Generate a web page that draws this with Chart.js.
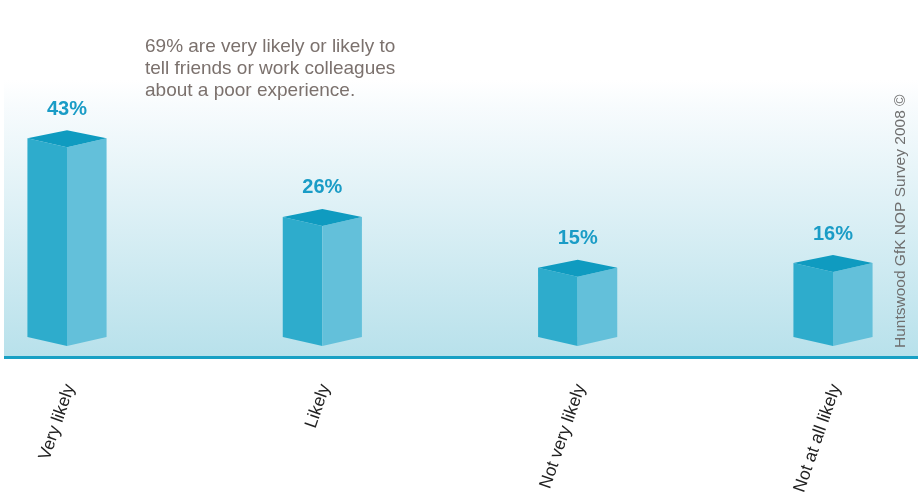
<!DOCTYPE html>
<html>
<head>
<meta charset="utf-8">
<script src="https://cdn.jsdelivr.net/npm/chart.js@4/dist/chart.umd.min.js"></script>
<style>
  html, body { margin: 0; padding: 0; background: #ffffff; }
  #wrap { position: relative; width: 918px; height: 499px; }
</style>
</head>
<body>
<div id="wrap"><canvas id="chart" width="918" height="499"></canvas></div>
<script>
const categories = ["Very likely", "Likely", "Not very likely", "Not at all likely"];
const shares = [43, 26, 15, 16];
const noteLines = [
  "69% are very likely or likely to",
  "tell friends or work colleagues",
  "about a poor experience."
];
const sourceText = "Huntswood GfK NOP Survey 2008 \u00a9";

const FONT = "'Liberation Sans', Arial, sans-serif";

// background band, baseline, notes and the source line
const backdrop = {
  id: "backdrop",
  beforeDraw(chart) {
    const ctx = chart.ctx;
    const y = chart.scales.y;
    const baseY = y.getPixelForValue(0) + 10;
    ctx.save();
    const g = ctx.createLinearGradient(0, 80, 0, baseY);
    g.addColorStop(0, "#ffffff");
    g.addColorStop(0.1, "#f7fbfd");
    g.addColorStop(1, "#b8e1eb");
    ctx.fillStyle = g;
    ctx.fillRect(4, 80, chart.width - 4, baseY - 80);
    ctx.fillStyle = "#18a0c4";
    ctx.fillRect(4, baseY, chart.width - 4, 3);

    ctx.fillStyle = "#7b716d";
    ctx.font = "19px " + FONT;
    ctx.textBaseline = "middle";
    ctx.textAlign = "left";
    noteLines.forEach((t, i) => ctx.fillText(t, 145, 47 + i * 22));

    ctx.translate(901, 348);
    ctx.rotate(-Math.PI / 2);
    ctx.fillStyle = "#6f6f6f";
    ctx.font = "15.5px " + FONT;
    ctx.fillText(sourceText, 0, 0);
    ctx.restore();
  }
};

// each bar as a box seen from slightly above
const prisms = {
  id: "prisms",
  afterDatasetsDraw(chart) {
    const ctx = chart.ctx;
    const meta = chart.getDatasetMeta(0);
    ctx.save();
    meta.data.forEach((bar, i) => {
      const { x, y, base, width } = bar.getProps(["x", "y", "base", "width"], true);
      const l = x - width / 2, r = x + width / 2;
      const sideTop = y - 9, sideBot = base - 9;
      const apex = sideTop - 8;

      ctx.fillStyle = "#2eaccc";
      ctx.beginPath();
      ctx.moveTo(l, sideTop); ctx.lineTo(x, y); ctx.lineTo(x, base); ctx.lineTo(l, sideBot);
      ctx.closePath(); ctx.fill();

      ctx.fillStyle = "#63c0da";
      ctx.beginPath();
      ctx.moveTo(x, y); ctx.lineTo(r, sideTop); ctx.lineTo(r, sideBot); ctx.lineTo(x, base);
      ctx.closePath(); ctx.fill();

      ctx.fillStyle = "#0f9bc0";
      ctx.beginPath();
      ctx.moveTo(l, sideTop); ctx.lineTo(x, apex); ctx.lineTo(r, sideTop); ctx.lineTo(x, y);
      ctx.closePath(); ctx.fill();

      ctx.fillStyle = "#1a9cc6";
      ctx.font = "bold 20px " + FONT;
      ctx.textAlign = "center";
      ctx.textBaseline = "middle";
      ctx.fillText(shares[i] + "%", x, apex - 21);

      // category label, slanted under the bar
      ctx.save();
      ctx.translate(x + 3, 385);
      ctx.rotate(-71 * Math.PI / 180);
      ctx.fillStyle = "#222222";
      ctx.font = "17.5px " + FONT;
      ctx.textAlign = "right";
      ctx.textBaseline = "middle";
      ctx.fillText(categories[i], 0, 0);
      ctx.restore();
    });
    ctx.restore();
  }
};

new Chart(document.getElementById("chart"), {
  type: "bar",
  data: {
    labels: categories,
    datasets: [{
      data: shares,
      backgroundColor: "rgba(0,0,0,0)",
      borderWidth: 0,
      categoryPercentage: 1,
      barPercentage: 0.31
    }]
  },
  options: {
    responsive: false,
    animation: false,
    layout: { padding: { left: 67, right: 85, top: 115, bottom: 153 } },
    plugins: { legend: { display: false }, tooltip: { enabled: false } },
    scales: {
      x: { display: false, offset: false },
      y: { display: false, min: 0, max: 50 }
    }
  },
  plugins: [backdrop, prisms]
});
</script>
</body>
</html>
